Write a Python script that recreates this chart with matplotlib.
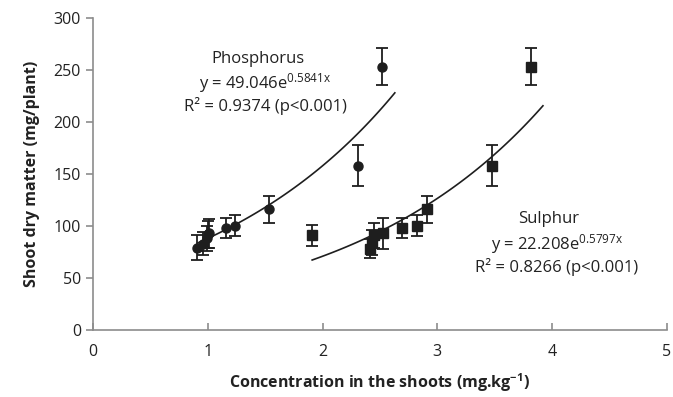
import numpy as np
import matplotlib.pyplot as plt

# data
p_conc = [0.91, 0.96, 0.99, 1.00, 1.01, 1.16, 1.24, 1.53, 2.31, 2.52]
p_dm = [79, 83, 88, 92, 93, 98, 100, 116, 158, 253]
p_err = [12, 11, 12, 13, 14, 10, 10, 13, 20, 18]

s_conc = [1.91, 2.41, 2.43, 2.45, 2.53, 2.69, 2.82, 2.91, 3.48, 3.82]
s_dm = [91, 78, 84, 91, 93, 98, 100, 116, 158, 253]
s_err = [10, 9, 12, 12, 15, 10, 10, 13, 20, 18]

# exponential trendlines y = a*exp(b*x) (from the chart's equations)
p_fit = (49.046, 0.5841, 0.91, 2.63)
s_fit = (22.208, 0.5797, 1.91, 3.92)

dark = '#1e1e1e'
grey = '#8c8c8c'
plt.rcParams['font.family'] = ['Open Sans', 'DejaVu Sans']
plt.rcParams['mathtext.default'] = 'regular'

fig = plt.figure(figsize=(6.73, 3.97), dpi=100)
ax = fig.add_axes([0.138, 0.169, 0.853, 0.786])

ax.errorbar(p_conc, p_dm, yerr=p_err, fmt='o', color=dark, ms=6.5,
            capsize=4, elinewidth=1.3, capthick=1.3, zorder=3)
ax.errorbar(s_conc, s_dm, yerr=s_err, fmt='s', color=dark, ms=7,
            capsize=4, elinewidth=1.3, capthick=1.3, zorder=3)

for a, b, x0, x1 in (p_fit, s_fit):
    xx = np.linspace(x0, x1, 100)
    ax.plot(xx, a * np.exp(b * xx), color=dark, lw=1.2, zorder=2)

ax.set_xlim(0, 5)
ax.set_ylim(0, 300)
ax.set_xticks(range(6))
ax.set_yticks(range(0, 301, 50))
for s in ('top', 'right'):
    ax.spines[s].set_visible(False)
for s in ('left', 'bottom'):
    ax.spines[s].set_color(grey)
    ax.spines[s].set_linewidth(1.2)
ax.tick_params(axis='both', colors=grey, labelcolor='#222222', labelsize=11.5,
               length=5, width=1.2, direction='out')
ax.tick_params(axis='x', direction='in', pad=10)

ax.set_xlabel('Concentration in the shoots (mg.kg$^{-1}$)', fontsize=11.5,
              fontweight='bold', color='#222222', labelpad=8)
ax.set_ylabel('Shoot dry matter (mg/plant)', fontsize=11.5,
              fontweight='bold', color='#222222', labelpad=10)

tk = dict(fontsize=12, color='#222222', ha='center', va='center')
ax.text(1.44, 260, 'Phosphorus', **tk)
ax.text(1.50, 237, 'y = 49.046e$^{0.5841x}$', **tk)
ax.text(1.50, 215, 'R² = 0.9374 (p<0.001)', **tk)
ax.text(3.97, 107, 'Sulphur', **tk)
ax.text(4.04, 83, 'y = 22.208e$^{0.5797x}$', **tk)
ax.text(4.04, 60, 'R² = 0.8266 (p<0.001)', **tk)

fig.savefig('out.png', dpi=100)
